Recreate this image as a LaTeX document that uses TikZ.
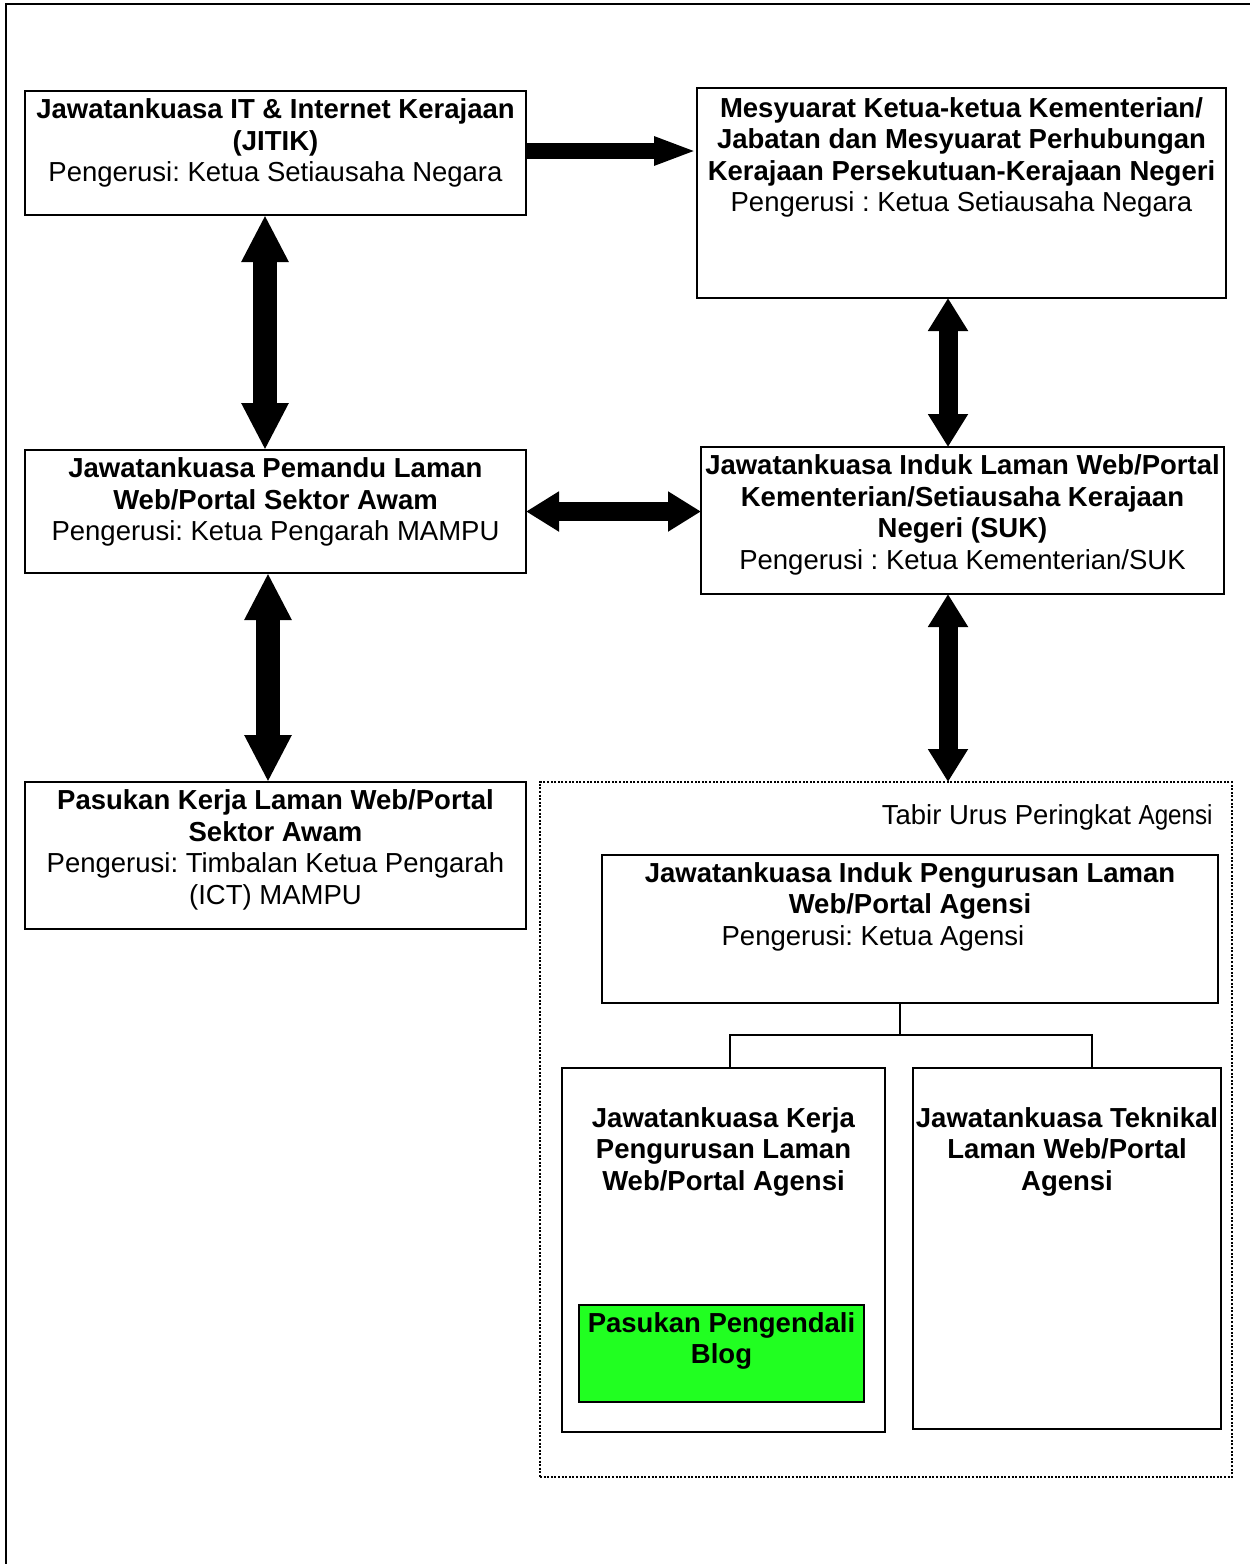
\documentclass[tikz,border=0pt]{standalone}
\usepackage{fontspec}
\setmainfont{Liberation Sans}
\usetikzlibrary{arrows.meta}
\definecolor{blogbg}{RGB}{33,255,33}
\frenchspacing
\newcommand\bxc[4]{\parbox[t][#2][t]{#1}{\centering\rule{0pt}{#3}#4}}
\begin{document}
\begin{tikzpicture}[x=0.5pt,y=-0.5pt,
  every node/.style={font=\fontsize{13.75pt}{15.75pt}\selectfont},
  box/.style={draw=black,line width=1pt,inner sep=0pt,outer sep=0pt,fill=white,anchor=north west},
  conn/.style={draw=black,line width=1pt},
  arrbig/.style={line width=12pt,{Triangle[width=22pt,length=23.5pt]}-{Triangle[width=22pt,length=23.5pt]}},
  arrmid/.style={line width=9.5pt,{Triangle[width=19pt,length=16.5pt]}-{Triangle[width=19pt,length=16.5pt]}},
  arrflat/.style={line width=8pt,-{Triangle[width=13pt,length=21.5pt]}},
  dotbox/.style={draw=black,line width=1pt,dash pattern=on 1pt off 0.8pt,inner sep=0pt,outer sep=0pt,anchor=north west},
]
\useasboundingbox (0,0) rectangle (1249,1564);
\fill[white] (0,0) rectangle (1249,1564);
\draw[line width=1.1pt] (6,4) rectangle (1275,1600);

% top-left
\node[box] (A) at (25,91) {\bxc{250.5pt}{62pt}{13.75pt}{\textbf{Jawatankuasa IT \& Internet Kerajaan}\\\textbf{(JITIK)}\\Pengerusi: Ketua Setiausaha Negara}};
% top-right
\node[box] (B) at (697,88) {\bxc{264.5pt}{105pt}{14.5pt}{\textbf{Mesyuarat Ketua-ketua Kementerian/}\\\textbf{Jabatan dan Mesyuarat Perhubungan}\\\textbf{Kerajaan Persekutuan-Kerajaan Negeri}\\Pengerusi : Ketua Setiausaha Negara}};
% middle-left
\node[box] (C) at (25,450) {\bxc{250.5pt}{61.5pt}{13.75pt}{\textbf{Jawatankuasa Pemandu Laman}\\\textbf{Web/Portal Sektor Awam}\\Pengerusi: Ketua Pengarah MAMPU}};
% middle-right
\node[box] (D) at (701,447) {\bxc{261.5pt}{73.5pt}{13.75pt}{\textbf{Jawatankuasa Induk Laman Web/Portal}\\\textbf{Kementerian/Setiausaha Kerajaan}\\\textbf{Negeri (SUK)}\\Pengerusi : Ketua Kementerian/SUK}};
% bottom-left
\node[box] (E) at (25,782) {\bxc{250.5pt}{73.5pt}{13.75pt}{\textbf{Pasukan Kerja Laman Web/Portal}\\\textbf{Sektor Awam}\\Pengerusi: Timbalan Ketua Pengarah\\(ICT) MAMPU}};

% agency frame
\node[dotbox,minimum width=346pt,minimum height=347.5pt] (agency) at (540,782) {};
\node[anchor=base east,inner sep=0pt] (tabir) at (1213,824) {Tabir Urus Peringkat \scalebox{0.88}[1]{Agensi}};

\node[box] (F) at (602,855) {\bxc{308pt}{74pt}{13.5pt}{\textbf{Jawatankuasa Induk Pengurusan Laman}\\\textbf{Web/Portal Agensi}\\Pengerusi: Ketua Agensi\hspace*{37pt}}};
\node[box] (G) at (562,1068) {\bxc{161.5pt}{182pt}{29.5pt}{\textbf{Jawatankuasa Kerja}\\\textbf{Pengurusan Laman}\\\textbf{Web/Portal Agensi}}};
\node[box] (H) at (913,1068) {\bxc{154pt}{180.5pt}{29.5pt}{\textbf{Jawatankuasa Teknikal}\\\textbf{Laman Web/Portal}\\\textbf{Agensi}}};
\node[box,fill=blogbg] (blog) at (579,1305) {\bxc{142.5pt}{48.5pt}{13.5pt}{\textbf{Pasukan Pengendali}\\\textbf{Blog}}};

% org connector
\coordinate (fork) at (900,1035);
\draw[conn] ([xshift=-5pt]F.south) -- (fork);
\draw[conn] (fork) -| ([xshift=3.25pt]G.north);
\draw[conn] (fork) -| ([xshift=12.5pt]H.north);

% thick arrows
\coordinate (ab) at ([yshift=1pt]A.east);
\draw[arrflat] (ab) -- (ab -| B.west);
\draw[arrbig] ([xshift=-5.25pt]A.south) -- ([xshift=-5.25pt]C.north);
\draw[arrbig] ([xshift=-3.75pt]C.south) -- ([xshift=-3.75pt]E.north);
\draw[arrmid] (C.east) -- (C.east -| D.west);
\coordinate (bd) at ([xshift=-6.75pt]B.south);
\draw[arrmid] (bd) -- (bd |- D.north);
\coordinate (dg) at ([xshift=-7.25pt]D.south);
\draw[arrmid] (dg) -- (dg |- agency.north);
\end{tikzpicture}
\end{document}
